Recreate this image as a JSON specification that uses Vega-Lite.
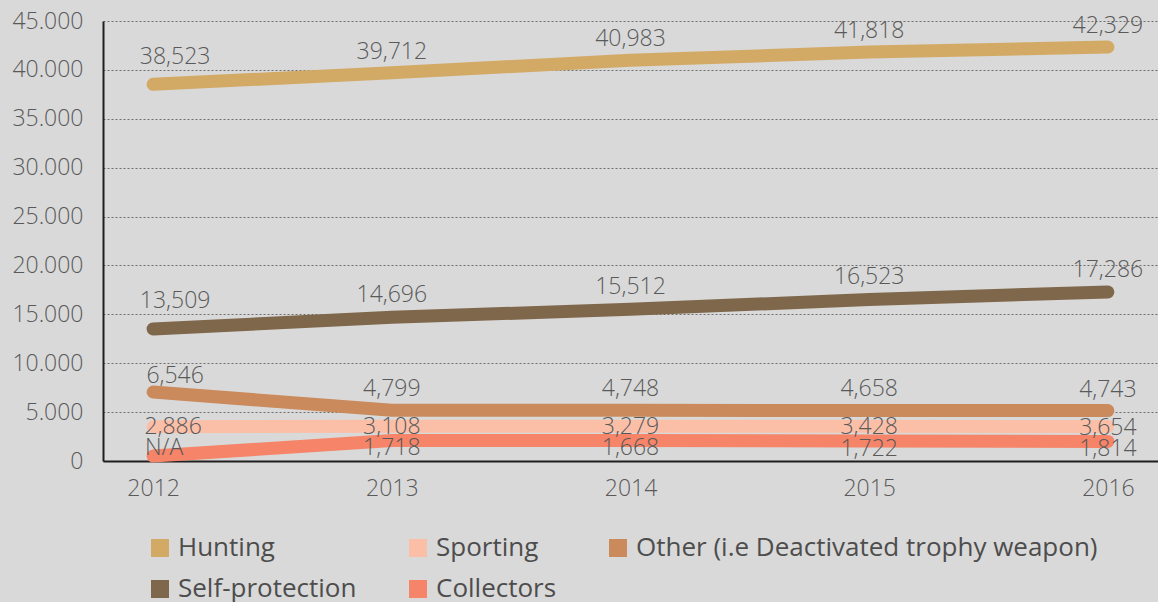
{
  "$schema": "https://vega.github.io/schema/vega-lite/v6.json",
  "width": 1055,
  "height": 440,
  "autosize": {"type": "none"},
  "padding": {"left": 103, "top": 21, "right": 0, "bottom": 141},
  "background": "#d9d9d9",
  "config": {"view": {"stroke": null}, "font": "Open Sans"},
  "data": {
    "values": [
      {"year": "2012", "series": "Hunting", "plot": 38523, "label": "38,523"},
      {"year": "2013", "series": "Hunting", "plot": 39712, "label": "39,712"},
      {"year": "2014", "series": "Hunting", "plot": 40983, "label": "40,983"},
      {"year": "2015", "series": "Hunting", "plot": 41818, "label": "41,818"},
      {"year": "2016", "series": "Hunting", "plot": 42329, "label": "42,329"},
      {"year": "2012", "series": "Self-protection", "plot": 13509, "label": "13,509"},
      {"year": "2013", "series": "Self-protection", "plot": 14696, "label": "14,696"},
      {"year": "2014", "series": "Self-protection", "plot": 15512, "label": "15,512"},
      {"year": "2015", "series": "Self-protection", "plot": 16523, "label": "16,523"},
      {"year": "2016", "series": "Self-protection", "plot": 17286, "label": "17,286"},
      {"year": "2012", "series": "Other (i.e Deactivated trophy weapon)", "plot": 7050, "label": "6,546"},
      {"year": "2013", "series": "Other (i.e Deactivated trophy weapon)", "plot": 5200, "label": "4,799"},
      {"year": "2014", "series": "Other (i.e Deactivated trophy weapon)", "plot": 5180, "label": "4,748"},
      {"year": "2015", "series": "Other (i.e Deactivated trophy weapon)", "plot": 5170, "label": "4,658"},
      {"year": "2016", "series": "Other (i.e Deactivated trophy weapon)", "plot": 5160, "label": "4,743"},
      {"year": "2012", "series": "Sporting", "plot": 3500, "label": "2,886"},
      {"year": "2013", "series": "Sporting", "plot": 3550, "label": "3,108"},
      {"year": "2014", "series": "Sporting", "plot": 3560, "label": "3,279"},
      {"year": "2015", "series": "Sporting", "plot": 3550, "label": "3,428"},
      {"year": "2016", "series": "Sporting", "plot": 3520, "label": "3,654"},
      {"year": "2012", "series": "Collectors", "plot": 500, "label": "N/A"},
      {"year": "2013", "series": "Collectors", "plot": 2100, "label": "1,718"},
      {"year": "2014", "series": "Collectors", "plot": 2100, "label": "1,668"},
      {"year": "2015", "series": "Collectors", "plot": 2050, "label": "1,722"},
      {"year": "2016", "series": "Collectors", "plot": 2000, "label": "1,814"}
    ]
  },
  "encoding": {
    "x": {
      "field": "year",
      "type": "ordinal",
      "scale": {"type": "point", "padding": 0.21},
      "axis": {
        "title": null,
        "labelAngle": 0,
        "ticks": false,
        "grid": false,
        "domainColor": "#1f1f1f",
        "domainWidth": 2,
        "labelFontSize": 23,
        "labelFontWeight": 300,
        "labelColor": "#595959",
        "labelPadding": 16,
        "labelFont": "Open Sans"
      }
    },
    "y": {
      "field": "plot",
      "type": "quantitative",
      "scale": {"domain": [0, 45000], "nice": false},
      "axis": {
        "title": null,
        "values": [0, 5000, 10000, 15000, 20000, 25000, 30000, 35000, 40000, 45000],
        "labelExpr": "datum.value == 0 ? '0' : replace(format(datum.value, ',.0f'), ',', '.')",
        "grid": true,
        "gridDash": [2, 2],
        "gridColor": "#6e6e6e",
        "gridWidth": 1,
        "ticks": false,
        "domainColor": "#1f1f1f",
        "domainWidth": 2,
        "labelFontSize": 23,
        "labelFontWeight": 300,
        "labelColor": "#595959",
        "labelPadding": 20,
        "labelFont": "Open Sans"
      }
    }
  },
  "layer": [
    {
      "mark": {"type": "line", "strokeWidth": 13, "strokeCap": "round", "strokeJoin": "round"},
      "encoding": {
        "color": {
          "field": "series",
          "type": "nominal",
          "scale": {
            "domain": ["Hunting", "Sporting", "Other (i.e Deactivated trophy weapon)", "Self-protection", "Collectors"],
            "range": ["#d3aa65", "#fbbfa8", "#cb8a5b", "#7f674c", "#f58468"]
          },
          "legend": {
            "orient": "none",
            "legendX": 44,
            "legendY": 514,
            "columns": 3,
            "direction": "horizontal",
            "title": null,
            "symbolType": "square",
            "symbolSize": 324,
            "symbolStrokeWidth": 0,
            "labelFontSize": 26,
            "labelColor": "#4d4d4d",
            "labelFont": "Open Sans",
            "labelOffset": 5,
            "labelLimit": 600,
            "columnPadding": 48,
            "rowPadding": 15,
            "encode": {
              "symbols": {
                "update": {
                  "fill": {"scale": "color", "field": "value"},
                  "strokeWidth": {"value": 0},
                  "opacity": {"value": 1}
                }
              }
            }
          }
        }
      }
    },
    {
      "transform": [{"filter": "datum.series == 'Hunting' && datum.year != '2012'"}],
      "mark": {"type": "text", "fontSize": 23, "fontWeight": 300, "color": "#595959", "baseline": "middle", "dy": -21, "font": "Open Sans"},
      "encoding": {"text": {"field": "label"}}
    },
    {
      "transform": [{"filter": "datum.series == 'Hunting' && datum.year == '2012'"}],
      "mark": {"type": "text", "fontSize": 23, "fontWeight": 300, "color": "#595959", "baseline": "middle", "dy": -27, "dx": 22, "font": "Open Sans"},
      "encoding": {"text": {"field": "label"}}
    },
    {
      "transform": [{"filter": "datum.series == 'Self-protection' && datum.year != '2012'"}],
      "mark": {"type": "text", "fontSize": 23, "fontWeight": 300, "color": "#595959", "baseline": "middle", "dy": -22, "font": "Open Sans"},
      "encoding": {"text": {"field": "label"}}
    },
    {
      "transform": [{"filter": "datum.series == 'Self-protection' && datum.year == '2012'"}],
      "mark": {"type": "text", "fontSize": 23, "fontWeight": 300, "color": "#595959", "baseline": "middle", "dy": -28, "dx": 22, "font": "Open Sans"},
      "encoding": {"text": {"field": "label"}}
    },
    {
      "transform": [{"filter": "datum.series == 'Other (i.e Deactivated trophy weapon)' && datum.year != '2012'"}],
      "mark": {"type": "text", "fontSize": 23, "fontWeight": 300, "color": "#595959", "baseline": "middle", "dy": -21, "font": "Open Sans"},
      "encoding": {"text": {"field": "label"}}
    },
    {
      "transform": [{"filter": "datum.series == 'Other (i.e Deactivated trophy weapon)' && datum.year == '2012'"}],
      "mark": {"type": "text", "fontSize": 23, "fontWeight": 300, "color": "#595959", "baseline": "middle", "dy": -16, "dx": 22, "font": "Open Sans"},
      "encoding": {"text": {"field": "label"}}
    },
    {
      "transform": [{"filter": "datum.series == 'Sporting' && datum.year != '2012'"}],
      "mark": {"type": "text", "fontSize": 23, "fontWeight": 300, "color": "#595959", "baseline": "middle", "dy": 1, "font": "Open Sans"},
      "encoding": {"text": {"field": "label"}}
    },
    {
      "transform": [{"filter": "datum.series == 'Sporting' && datum.year == '2012'"}],
      "mark": {"type": "text", "fontSize": 23, "fontWeight": 300, "color": "#595959", "baseline": "middle", "dy": 0, "dx": 20, "font": "Open Sans"},
      "encoding": {"text": {"field": "label"}}
    },
    {
      "transform": [{"filter": "datum.series == 'Collectors' && datum.year != '2012'"}],
      "mark": {"type": "text", "fontSize": 23, "fontWeight": 300, "color": "#595959", "baseline": "middle", "dy": 8, "font": "Open Sans"},
      "encoding": {"text": {"field": "label"}}
    },
    {
      "transform": [{"filter": "datum.series == 'Collectors' && datum.year == '2012'"}],
      "mark": {"type": "text", "fontSize": 23, "fontWeight": 300, "color": "#595959", "baseline": "middle", "dy": -8, "dx": 11, "font": "Open Sans"},
      "encoding": {"text": {"field": "label"}}
    }
  ]
}
